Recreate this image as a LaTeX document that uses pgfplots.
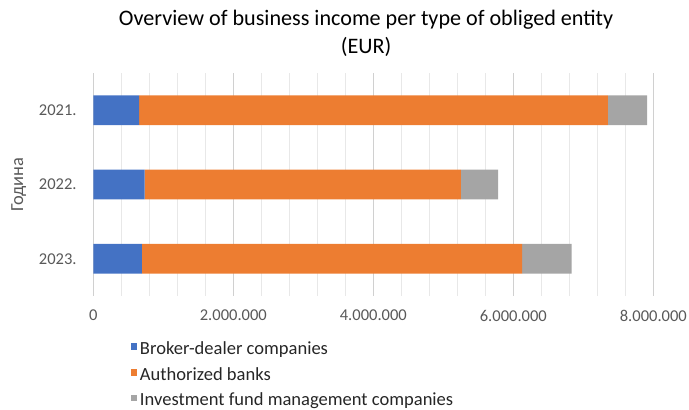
\documentclass[border=0pt]{standalone}
\usepackage{fontspec}
\setmainfont{Carlito}
\usepackage{pgfplots}
\usepackage{pgfplotstable}
\pgfplotsset{compat=1.18}
\definecolor{cblue}{HTML}{4472C4}
\definecolor{corange}{HTML}{ED7D31}
\definecolor{cgray}{HTML}{A5A5A5}
\definecolor{gridmaj}{HTML}{D0D0D0}
\definecolor{gridmin}{HTML}{E8E8E8}
\definecolor{txt}{HTML}{595959}

% income per year, EUR
\pgfplotstableread{
pos broker banks funds
0 655000 6695000 560000
1 732000 4520000 530000
2 694000 5430000 710000
}\income

\begin{document}
\begin{tikzpicture}
    % page = 689 x 410 px at 0.75 pt/px
    \useasboundingbox (-70pt,-85.5pt) rectangle (446.75pt,222pt);
    \begin{axis}[
        at={(0,0)}, anchor=south west,
        scale only axis,
        width=420pt, height=167.25pt,
        xbar stacked, bar width=0.4,
        xmin=0, xmax=8000000,
        ymin=-0.5, ymax=2.5, y dir=reverse,
        axis x line*=bottom, axis y line*=left,
        x axis line style={draw=none},
        y axis line style={draw=gridmaj, line width=0.8pt},
        xtick={0,2000000,4000000,6000000,8000000},
        xticklabels={0,2.000.000,4.000.000,6.000.000,8.000.000},
        scaled x ticks=false,
        minor x tick num=4,
        xmajorgrids, xminorgrids,
        major grid style={draw=gridmaj, line width=0.8pt},
        minor grid style={draw=gridmin, line width=0.8pt},
        major tick length=0pt, minor tick length=0pt,
        ytick={0,1,2},
        yticklabels={2021.,2022.,2023.},
        tick label style={font=\fontsize{12.4}{14}\selectfont, text=txt},
        xticklabel style={yshift=-7pt},
        yticklabel style={xshift=-9pt},
        ylabel={Година},
        ylabel style={font=\fontsize{13.8}{16}\selectfont, text=txt,
            at={(axis description cs:-0.133,0.5)}, anchor=center},
        title={Overview of business income per type of obliged entity\\(EUR)},
        title style={align=center, font=\fontsize{16.6}{20.8}\selectfont,
            at={(0.487,1)}, anchor=south, inner sep=0pt, yshift=6pt},
        legend style={
            at={(0,0)}, anchor=north west, xshift=28pt, yshift=-33.5pt,
            draw=none, fill=none,
            font=\fontsize{13.9}{16}\selectfont,
            text=black!85,
            legend cell align=left,
            nodes={inner sep=0pt, text height=10pt, text depth=3.5pt},
            row sep=5.8pt,
            inner sep=0pt,
        },
        legend image code/.code={
            \fill[#1, draw=none] (0pt,0pt) rectangle (4.8pt,5pt);
            \path (6.8pt,0pt);
        },
    ]
        \addplot[fill=cblue, draw=none] table [x=broker, y=pos] {\income};
        \addplot[fill=corange, draw=none] table [x=banks, y=pos] {\income};
        \addplot[fill=cgray, draw=none] table [x=funds, y=pos] {\income};
        \legend{Broker-dealer companies, Authorized banks, Investment fund management companies}
    \end{axis}
\end{tikzpicture}
\end{document}
